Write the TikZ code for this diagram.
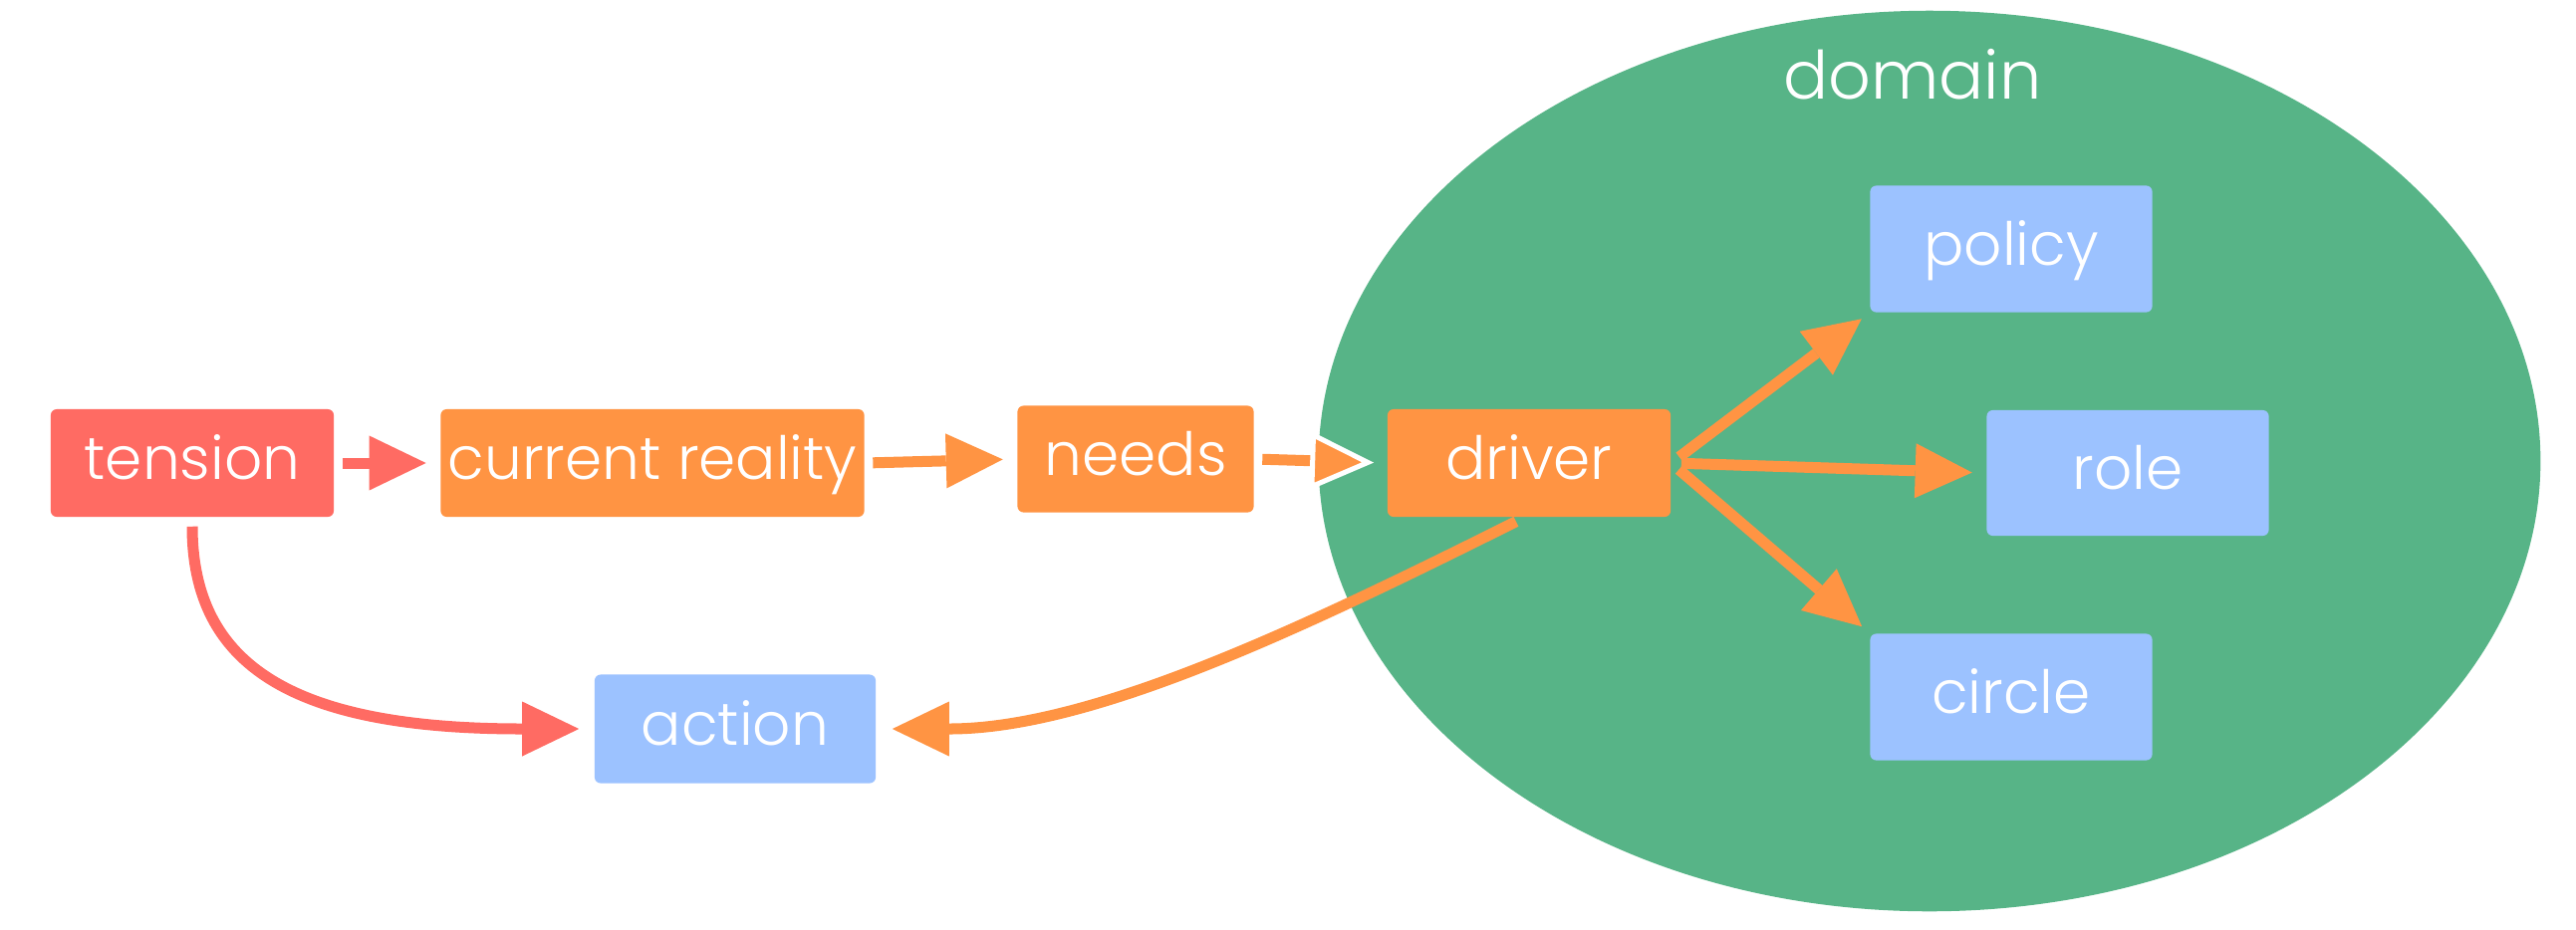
\documentclass[tikz,border=0pt]{standalone}
\usepackage{fontspec}
\setmainfont{Poppins}[UprightFont=* Light]
\usetikzlibrary{arrows.meta}

\definecolor{tensionred}{HTML}{FF6B63}
\definecolor{flowor}{HTML}{FF9443}
\definecolor{itemblue}{HTML}{9CC2FF}
\definecolor{domaingreen}{HTML}{57B487}

\begin{document}
\begin{tikzpicture}[x=0.01cm, y=-0.01cm,
  box/.style={rounded corners=0.06cm, text=white, inner sep=0pt,
    font=\fontsize{17}{20}\selectfont, text height=0.44cm, text depth=0.12cm,
    minimum height=1.08cm, minimum width=2.84cm},
  redbox/.style={box, fill=tensionred},
  orbox/.style={box, fill=flowor},
  bluebox/.style={box, fill=itemblue, minimum height=1.27cm, minimum width=2.83cm},
  link/.style={line width=0.11cm, shorten <=0.08cm, shorten >=0.08cm, -{head}},
  orlink/.style={link, draw=flowor},
  redlink/.style={link, draw=tensionred},
]
\tikzset{head/.tip={Triangle[length=0.57cm, width=0.55cm, line width=0pt, sep=0.06cm]}}
\useasboundingbox (0,0) rectangle (2586,933);

% domain area
\fill[domaingreen] (1937,463) ellipse [x radius=6.13cm, y radius=4.52cm];
\node[text=white, font=\fontsize{19}{22}\selectfont, anchor=base] (domainlabel) at (1920,99) {domain};

% boxes
\node[redbox] (tension) at (193,465) {tension};
\node[orbox, minimum width=4.25cm] (reality) at (655,465) {current reality};
\node[orbox, minimum width=2.37cm, minimum height=1.07cm] (needs) at (1140,461) {needs};
\node[orbox] (driver) at (1535,465) {driver};
\node[bluebox] (policy) at (2019,250) {policy};
\node[bluebox, minimum height=1.26cm] (role) at (2136,475) {role};
\node[bluebox] (circle) at (2019,700) {circle};
\node[bluebox, minimum height=1.09cm, minimum width=2.82cm] (action) at (738,732) {action};

% main chain
\draw[redlink, -{Triangle[length=0.57cm, width=0.55cm, line width=0pt, sep=0.06cm, fill=tensionred, color=tensionred]}] (tension.east) -- (reality.west);
\draw[orlink] (reality.east) -- (needs.west);
\draw[line width=0.11cm, draw=flowor, shorten <=0.08cm, shorten >=0.07cm,
  -{Triangle[length=0.64cm, width=0.58cm, line width=0.05cm, sep=0.06cm, color=white, fill=flowor]}]
  (needs.east) -- (driver.west);

% driver to the domain items
\draw[orlink, shorten <=0.1cm, shorten >=0.04cm] (driver.east) -- (policy.south west);
\draw[orlink, shorten <=0.1cm] (driver.east) -- (role.west);
\draw[orlink, shorten <=0.1cm, shorten >=0.04cm] (driver.east) -- (circle.north west);

% curved links into action
\draw[redlink, shorten <=0.09cm, shorten >=0.09cm, -{Triangle[length=0.57cm, width=0.55cm, line width=0pt, sep=0.06cm, fill=tensionred, color=tensionred]}]
  (tension.south) .. controls +(0,150) and +(-300,0) .. (action.west);
\draw[orlink, shorten <=0.09cm, shorten >=0.1cm]
  ([xshift=-0.05cm]driver.south) .. controls +(-224,112) and +(216,0) .. (action.east);
\end{tikzpicture}
\end{document}
